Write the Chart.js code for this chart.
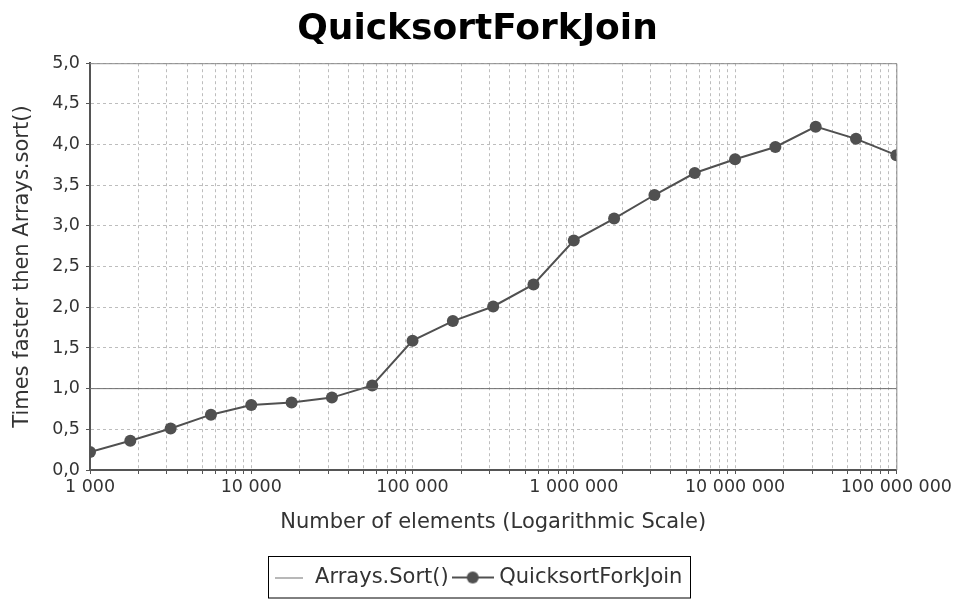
<!DOCTYPE html>
<html>
<head>
<meta charset="utf-8">
<script src="https://cdn.jsdelivr.net/npm/chart.js@4/dist/chart.umd.min.js"></script>
<style>
    html, body { margin: 0; padding: 0; background: #ffffff; }
</style>
</head>
<body>
<canvas id="grafico_quicksort" width="955" height="599"></canvas>
<script>
/* dados do grafico */
const numElementos = [1000, 1778, 3162, 5623, 10000, 17783, 31623, 56234, 100000, 177828,
    316228, 562341, 1000000, 1778279, 3162278, 5623413, 10000000, 17782794, 31622777, 56234133, 100000000];
const vezesMaisRapido = [0.22, 0.36, 0.51, 0.68, 0.80, 0.83, 0.89, 1.04, 1.59, 1.83,
    2.01, 2.28, 2.82, 3.09, 3.38, 3.65, 3.82, 3.97, 4.22, 4.07, 3.87];
const arraysSortX = [1000, 100000000];
const arraysSortY = [1, 1];
const decadas = [1000, 10000, 100000, 1000000, 10000000, 100000000];
const subdivisoes = [1, 2, 3, 4, 5, 6, 7, 8, 9];

// ticks do eixo x: 1..9 em cada decada
const ticksX = [];
decadas.forEach(d => {
    subdivisoes.forEach(m => {
        const v = d * m;
        if (v <= decadas[decadas.length - 1]) ticksX.push(v);
    });
});

const formatarMilhar = v => String(v).replace(/\B(?=(\d{3})+(?!\d))/g, ' ');

// imagens da legenda
function simboloLinha() {
    const c = document.createElement('canvas');
    c.width = 28; c.height = 14;
    const g = c.getContext('2d');
    g.strokeStyle = '#707070';
    g.lineWidth = 1;
    g.beginPath(); g.moveTo(0, 7.5); g.lineTo(28, 7.5); g.stroke();
    return c;
}
function simboloPonto() {
    const c = document.createElement('canvas');
    c.width = 42; c.height = 14;
    const g = c.getContext('2d');
    g.strokeStyle = '#505050';
    g.lineWidth = 2;
    g.beginPath(); g.moveTo(0, 7); g.lineTo(42, 7); g.stroke();
    g.fillStyle = '#505050';
    g.beginPath(); g.arc(21, 7, 6, 0, Math.PI * 2); g.fill();
    return c;
}
const simbolos = [simboloLinha(), simboloPonto()];

const fonte = "'DejaVu Sans', 'Helvetica Neue', Arial, sans-serif";

// moldura do grafico e borda da legenda
const molduraPlugin = {
    id: 'moldura',
    beforeDatasetsDraw(chart) {
        const {ctx, chartArea} = chart;
        ctx.save();
        ctx.strokeStyle = '#8a8a8a';
        ctx.lineWidth = 1;
        ctx.beginPath();
        ctx.moveTo(chartArea.left, chartArea.top + 0.5);
        ctx.lineTo(chartArea.right + 0.5, chartArea.top + 0.5);
        ctx.lineTo(chartArea.right + 0.5, chartArea.bottom);
        ctx.stroke();
        ctx.restore();
    },
    afterDraw(chart) {
        const boxes = chart.legend.legendHitBoxes;
        if (!boxes || !boxes.length) return;
        const ctx = chart.ctx;
        const first = boxes[0];
        const last = boxes[boxes.length - 1];
        const left = Math.round(first.left) - 4.5;
        const right = Math.round(last.left + last.width) + 8.5;
        ctx.save();
        ctx.strokeStyle = '#000000';
        ctx.lineWidth = 1;
        ctx.strokeRect(left, 556.5, right - left, 41.5);
        ctx.restore();
    }
};

const dadosQuicksort = {
    datasets: [{
        label: 'Arrays.Sort()',
        data: arraysSortX.map((x, i) => ({x: x, y: arraysSortY[i]})),
        borderColor: '#6e6e6e',
        borderWidth: 1,
        pointRadius: 0,
        pointStyle: simbolos[0]
    }, {
        label: 'QuicksortForkJoin',
        data: numElementos.map((x, i) => ({x: x, y: vezesMaisRapido[i]})),
        borderColor: '#505050',
        backgroundColor: '#505050',
        borderWidth: 2,
        pointRadius: 6,
        pointBackgroundColor: '#505050',
        pointBorderColor: '#505050',
        pointBorderWidth: 0,
        pointStyle: 'circle'
    }]
};

const configQuicksort = {
    type: 'line',
    data: dadosQuicksort,
    options: {
        responsive: false,
        animation: false,
        layout: { padding: { left: 0, right: 0, top: 0, bottom: 1 } },
        plugins: {
            title: {
                display: true,
                text: 'QuicksortForkJoin',
                color: '#000000',
                padding: { top: 8, bottom: 12 },
                font: { size: 36, weight: 'bold', family: fonte }
            },
            legend: {
                position: 'bottom',
                labels: {
                    usePointStyle: true,
                    pointStyleWidth: 32,
                    padding: 8,
                    color: '#333333',
                    font: { size: 21, family: fonte },
                    generateLabels(chart) {
                        return chart.data.datasets.map((ds, i) => ({
                            text: ds.label,
                            pointStyle: simbolos[i],
                            fontColor: '#333333',
                            lineWidth: 0,
                            strokeStyle: 'rgba(0,0,0,0)',
                            fillStyle: 'rgba(0,0,0,0)',
                            hidden: false,
                            datasetIndex: i
                        }));
                    }
                }
            },
            tooltip: { enabled: false }
        },
        scales: {
            x: {
                type: 'logarithmic',
                min: 1000,
                max: 100000000,
                afterBuildTicks(scale) {
                    scale.ticks = ticksX.map(v => ({ value: v }));
                },
                afterFit(scale) {
                    scale.height = 89;
                },
                ticks: {
                    autoSkip: false,
                    maxRotation: 0,
                    padding: 3,
                    color: '#333333',
                    font: { size: 17.5, family: fonte },
                    callback: v => decadas.includes(v) ? formatarMilhar(v) : ''
                },
                grid: {
                    color: '#bdbdbd',
                    lineWidth: 1,
                    tickColor: '#555555',
                    tickLength: 4
                },
                border: { color: '#555555', width: 2, dash: [3, 3] },
                title: {
                    display: true,
                    text: 'Number of elements (Logarithmic Scale)',
                    color: '#333333',
                    padding: { top: 8, bottom: 24 },
                    font: { size: 21, family: fonte }
                }
            },
            y: {
                min: 0,
                max: 5,
                afterFit(scale) {
                    scale.width = 90;
                },
                ticks: {
                    stepSize: 0.5,
                    padding: 6,
                    color: '#333333',
                    font: { size: 17.5, family: fonte },
                    callback: v => v.toFixed(1).replace('.', ',')
                },
                grid: {
                    color: '#bdbdbd',
                    lineWidth: 1,
                    tickColor: '#555555',
                    tickLength: 4
                },
                border: { color: '#555555', width: 2, dash: [3, 3] },
                title: {
                    display: true,
                    text: 'Times faster then Arrays.sort()',
                    color: '#333333',
                    padding: { top: 10, bottom: 0 },
                    font: { size: 21, family: fonte }
                }
            }
        }
    },
    plugins: [molduraPlugin]
};

const graficoQuicksort = new Chart(
    document.getElementById('grafico_quicksort'),
    configQuicksort
);
</script>
</body>
</html>
